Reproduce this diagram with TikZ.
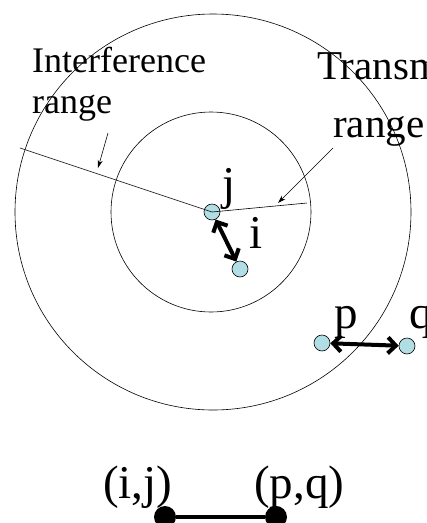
\documentclass[tikz,border=0pt]{standalone}
\usepackage{fontspec}
\setmainfont{Liberation Serif}
\usetikzlibrary{arrows.meta}
\definecolor{nodefill}{RGB}{176,222,228}
\tikzset{
  dev/.style={circle,draw=black,line width=0.6pt,fill=nodefill,minimum size=16pt,inner sep=0pt},
  bigtxt/.style={font=\fontsize{36}{40}\selectfont,inner sep=0pt,anchor=base west},
  rtxt/.style={font=\fontsize{41}{44}\selectfont,inner sep=0pt,anchor=base west},
  lbl/.style={font=\fontsize{47}{50}\selectfont,inner sep=0pt,anchor=base west},
  link/.style={line width=4pt,{Straight Barb[length=8pt,width=16pt]}-{Straight Barb[length=8pt,width=16pt]}},
  thin/.style={line width=0.6pt},
  ptr/.style={line width=0.6pt,-{Stealth[length=8pt,width=5pt]}},
  vtx/.style={circle,fill=black,minimum size=22pt,inner sep=0pt}
}
\begin{document}
\begin{tikzpicture}[x=1pt,y=-1pt]
\useasboundingbox (0,0) rectangle (427,523);
\clip (0,0) rectangle (427,523);
% ranges
\draw[thin] (213,212) circle[radius=198];
\draw[thin] (211,212) circle[radius=100];
% nodes
\node[dev] (j) at (212,212) {};
\node[dev] (i) at (240,269) {};
\node[dev] (p) at (322,343) {};
\node[dev] (q) at (407,346) {};
\coordinate (outerpt) at (20,148);
\coordinate (innerpt) at (307,203);
\draw[thin] (j.center) -- (outerpt);
\draw[thin] (j.center) -- (innerpt);
% text labels
\node[bigtxt] (tI) at (32,72) {Interference};
\node[bigtxt] (tIr) at (32,113) {range};
\node[rtxt] (tT) at (317,79) {Transmission};
\node[rtxt] (tTr) at (333,137) {range};
\coordinate (ia) at (108,133);
\coordinate (ib) at (98,168);
\draw[ptr] (ia) -- (ib);
\coordinate (ta) at (333,148);
\coordinate (tb) at (278,203);
\draw[ptr] (ta) -- (tb);
% node labels
\node[lbl] (lj) at (222,199) {j};
\node[lbl] (li) at (249,248) {i};
\node[lbl] (lp) at (334,328) {p};
\node[lbl] (lq) at (409,328) {q};
% links
\draw[link] (j) -- (i);
\draw[link] (p) -- (q);
% conflict graph
\node[vtx] (e1) at (165,517) {};
\node[vtx] (e2) at (276,517) {};
\draw[line width=4.5pt] (e1) -- (e2);
\node[lbl] (le1) at (103,498) {(i,j)};
\node[lbl] (le2) at (254,498) {(p,q)};
\end{tikzpicture}
\end{document}
